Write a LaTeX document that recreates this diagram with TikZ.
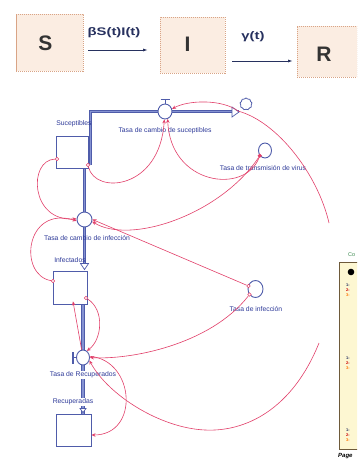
\documentclass[tikz,border=0pt]{standalone}
\usepackage{fontspec}
\setmainfont{Liberation Sans}
\usetikzlibrary{shapes.symbols,shapes.geometric,arrows.meta,calc}
\pgfdeclarelayer{bg}
\pgfdeclarelayer{paper}
\pgfsetlayers{paper,bg,main}
\definecolor{boxfill}{HTML}{FBEDE2}
\definecolor{boxline}{HTML}{D9A486}
\definecolor{navy}{HTML}{27315F}
\definecolor{sfblue}{HTML}{4F5CAA}
\definecolor{lblue}{HTML}{2E3A99}
\definecolor{pipein}{HTML}{8592D2}
\definecolor{conred}{HTML}{E2406A}
\definecolor{panelfill}{HTML}{FDF7D2}
\definecolor{panelline}{HTML}{6E5A3A}
\definecolor{cogreen}{HTML}{3C8A50}
\begin{document}
\begin{tikzpicture}[x=1pt,y=-1pt,
 topbox/.style={draw=boxline, fill=boxfill, dash pattern=on 1.2pt off 0.8pt, line width=0.9pt, inner sep=0pt},
 bigletter/.style={font=\fontsize{21}{21}\selectfont\bfseries, text=black!80, inner sep=0pt},
 toplabel/.style={font=\fontsize{11}{11}\selectfont\bfseries, text=navy, inner sep=0pt},
 toparrow/.style={draw=navy, line width=0.9pt, -{Latex[length=5pt,width=3pt]}},
 stock/.style={draw=sfblue, fill=white, line width=0.9pt, inner sep=0pt},
 valve/.style={draw=sfblue, fill=white, line width=0.9pt, ellipse, inner sep=0pt},
 conv/.style={draw=sfblue, fill=white, line width=0.9pt, ellipse, inner sep=0pt},
 sflabel/.style={font=\fontsize{6.8}{7}\selectfont, text=lblue, inner sep=0.5pt},
 pipe/.style={draw=sfblue, line width=0.9pt, double=pipein, double distance=1.5pt},
 pipetip/.style={draw=sfblue, fill=white, line width=0.7pt},
 conn/.style={draw=conred, line width=0.6pt, -{Stealth[length=4pt,width=3.5pt]}},
 connplain/.style={draw=conred, line width=0.6pt},
 src/.style={circle, draw=conred, fill=white, line width=0.5pt, inner sep=0pt, minimum size=3.6pt},
 tiny/.style={font=\fontsize{4}{4}\selectfont\bfseries, inner sep=0pt, anchor=west},
]
\useasboundingbox (0,0) rectangle (357,462);
\clip (0,0) rectangle (357,462);
\begin{pgfonlayer}{paper}
\fill[white] (0,0) rectangle (357,462);
\end{pgfonlayer}

% ---------- top SIR scheme ----------
\node[topbox, minimum width=67pt, minimum height=57pt] (S) at (49.5,43) {};
\node[topbox, minimum width=65pt, minimum height=56pt] (I) at (192.5,45) {};
\node[topbox, minimum width=60pt, minimum height=51pt] (R) at (327,51.5) {};
\node[bigletter] (Sl) at (45.5,43.5) {S};
\node[bigletter] (Il) at (187.5,44) {I};
\node[bigletter] (Rl) at (324,54) {R};
\coordinate (a1s) at (88,50);
\coordinate (a1e) at (148,50);
\coordinate (a2s) at (232,61);
\coordinate (a2e) at (293,61);
\draw[toparrow] (a1s) -- (a1e);
\draw[toparrow] (a2s) -- (a2e);
\node[toplabel] (l1) at (114,33) {\scalebox{1.35}[1]{βS(t)I(t)}};
\node[toplabel] (l2) at (253,37) {\scalebox{1.35}[1]{γ(t)}};

% ---------- stock and flow diagram ----------
\node[stock, minimum width=32pt, minimum height=32pt] (Sus) at (72,152) {};
\node[stock, minimum width=34pt, minimum height=33pt] (Inf) at (70,287.5) {};
\node[stock, minimum width=35pt, minimum height=32pt] (Rec) at (73.5,430) {};

\node[valve, minimum width=14pt, minimum height=15pt] (V1) at (165,111.5) {};
\node[valve, minimum width=15pt, minimum height=15pt] (V2) at (84.5,219.5) {};
\node[valve, minimum width=13pt, minimum height=15pt] (V3) at (83,357.5) {};

\node[conv, minimum width=13pt, minimum height=15pt] (C1) at (265,150.5) {};
\node[conv, minimum width=15pt, minimum height=17pt] (C2) at (255.5,289) {};

\node[cloud, cloud puffs=9, cloud puff arc=120, aspect=1, draw=sfblue, fill=white, line width=0.8pt,
      minimum width=12pt, minimum height=12pt, inner sep=0pt] (cloud) at (246,104) {};

% pipes
\begin{pgfonlayer}{bg}
\draw[pipe] ([xshift=2pt,yshift=3pt]Sus.south east) |- (V1.west);
\draw[pipe] (V1.east) -- ([xshift=-1pt]cloud.west |- V1.east);
\draw[pipe] (V2.north |- Sus.south) -- (V2.north);
\draw[pipe] (V2.south) -- ([yshift=5pt]V2.south |- Inf.north);
\draw[pipe] (V3.north |- Inf.south) -- (V3.north);
\draw[pipe] (V3.south) -- (V3.south |- Rec.north);
\end{pgfonlayer}
\draw[pipetip] (232,107) -- (239,112) -- (232,117) -- cycle;
\draw[pipetip] ([xshift=-4pt,yshift=7pt]V2.south |- Inf.north) -- ([xshift=4pt,yshift=7pt]V2.south |- Inf.north) -- ([yshift=1pt]V2.south |- Inf.north) -- cycle;
\draw[pipetip] ([xshift=-3pt,yshift=5pt]V3.south |- Rec.north) -- ([xshift=3pt,yshift=5pt]V3.south |- Rec.north) -- ([yshift=1pt]V3.south |- Rec.north) -- cycle;

% valve handles
\draw[sfblue, line width=0.8pt] (V1.north) -- ([yshift=4pt]V1.north);
\draw[sfblue, line width=1.4pt] ([xshift=-4.5pt,yshift=4pt]V1.north) -- ([xshift=4.5pt,yshift=4pt]V1.north);
\draw[sfblue, line width=0.8pt] (V3.west) -- ([xshift=-3pt]V3.west);
\draw[sfblue, line width=1.4pt] ([xshift=-3pt,yshift=-6pt]V3.west) -- ([xshift=-3pt,yshift=6pt]V3.west);

% labels
\node[sflabel] (lS) at (74,124) {Suceptibles};
\node[sflabel] (lV1) at (165,131) {Tasa de cambio de suceptibles};
\node[sflabel] (lC1) at (263,168) {Tasa de transmisión de virus};
\node[sflabel] (lV2) at (87,238) {Tasa de cambio de infección};
\node[sflabel] (lI) at (70,260) {Infectados};
\node[sflabel] (lC2) at (256,309) {Tasa de infección};
\node[sflabel, fill=white] (lV3) at (83,375) {Tasa de Recuperados};
\node[sflabel, fill=white] (lR) at (73,402) {Recuperadas};

% connectors
\node[src] (s1) at (57,159) {};
\node[src] (s2) at (53,281) {};
\node[src] (s3) at (88,165) {};
\node[src] (s4) at (248.5,286) {};
\node[src] (s5) at (249.5,294.5) {};
\node[src] (s6) at (86,298) {};
\node[src, fill=conred] (s7) at (C1.225) {};
\coordinate (hs) at (238,111);
\coordinate (gapA) at (329,223);
\coordinate (gapB) at (319,343);
\coordinate (lowR) at (205,430);

\draw[conn] (s1) .. controls (28,160) and (30,222) .. (V2.175);
\draw[conn] (s2) .. controls (18,275) and (25,205) .. (V2.190);
\draw[conn] (s3) .. controls (95,195) and (160,190) .. (V1.265);
\draw[conn] (s7) .. controls (245,195) and (170,185) .. (V1.290);
\draw[conn] (s7) .. controls (220,215) and (130,245) .. (V2.345);
\draw[conn] (s4) -- (V2.east);
\draw[conn] (s5) .. controls (210,345) and (130,360) .. (V3.east);
\draw[conn] (hs) .. controls (222,99) and (188,100) .. (V1.20);
\draw[connplain] (hs) .. controls (278,122) and (318,175) .. (gapA);
\draw[conn] (gapB) .. controls (292,410) and (245,432) .. (lowR) .. controls (160,428) and (108,395) .. (V3.-25);
\draw[conn] (V3.10) .. controls (135,360) and (140,435) .. ([yshift=-5pt]Rec.east);
\draw[conn] (s6) .. controls (105,310) and (102,340) .. (V3.60);
\draw[conn] (V3.100) -- ([xshift=3pt,yshift=3pt]Inf.south);

% ---------- right panel (partial) ----------
\node[font=\fontsize{5.5}{5.5}\selectfont, text=cogreen, anchor=west, inner sep=0pt] (co) at (348,255) {Co};
\node[draw=panelline, fill=panelfill, line width=0.9pt, anchor=north west,
      minimum width=25pt, minimum height=187pt, inner sep=0pt] (panel) at (339,262) {};
\fill[black] (351,272) circle (3.3);
\node[tiny, text=navy] (g1a) at (346,285) {1:};
\node[tiny, text=red!80!black] (g1b) at (346,290) {2:};
\node[tiny, text=orange!90!red] (g1c) at (346,295) {3:};
\node[tiny, text=navy] (g2a) at (346,358) {1:};
\node[tiny, text=red!80!black] (g2b) at (346,363) {2:};
\node[tiny, text=orange!90!red] (g2c) at (346,368) {3:};
\node[tiny, text=navy] (g3a) at (346,430) {1:};
\node[tiny, text=red!80!black] (g3b) at (346,435) {2:};
\node[tiny, text=orange!90!red] (g3c) at (346,440) {3:};
\node[font=\fontsize{6}{6}\selectfont\bfseries\itshape, anchor=west, inner sep=0pt] (page) at (338,456) {Page};
\end{tikzpicture}
\end{document}
